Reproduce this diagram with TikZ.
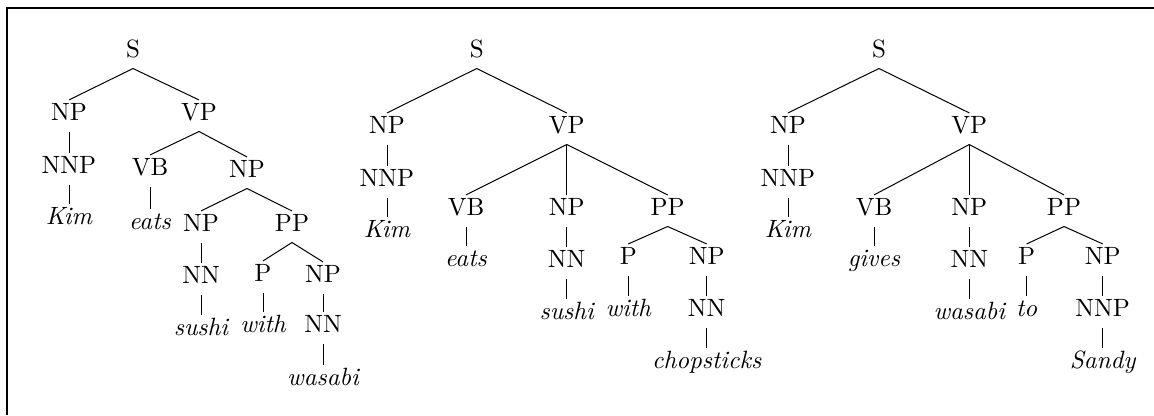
\documentclass[tikz,border=0pt]{standalone}
\begin{document}
\begin{tikzpicture}[x=0.4pt,y=-0.4pt,
  cat/.style={anchor=base,inner sep=1pt,text height=6.83pt,text depth=3.4pt},
  word/.style={cat,font=\itshape},
  branch/.style={line width=0.4pt},
  frame/.style={line width=0.6pt}]
\useasboundingbox (0,0) rectangle (1154,415);
\draw[frame] (7,415) -- (7,8) -- (1154,8);

% Tree 1: Kim eats [sushi with wasabi]
\node[cat]  (a)        at (133,57)  {S};
\node[cat]  (a-np)     at (69,120)  {NP};
\node[cat]  (a-vp)     at (199,120) {VP};
\node[cat]  (a-nnp)    at (69,173)  {NNP};
\node[word] (a-kim)    at (69,224)  {Kim};
\node[cat]  (a-vb)     at (150,175) {VB};
\node[word] (a-eats)   at (150,229) {eats};
\node[cat]  (a-np2)    at (247,177) {NP};
\node[cat]  (a-np3)    at (201,231) {NP};
\node[cat]  (a-pp)     at (292,231) {PP};
\node[cat]  (a-nn)     at (201,283) {NN};
\node[word] (a-sushi)  at (201,335) {sushi};
\node[cat]  (a-p)      at (263,281) {P};
\node[word] (a-with)   at (263,332) {with};
\node[cat]  (a-np4)    at (323,282) {NP};
\node[cat]  (a-nn2)    at (323,332) {NN};
\node[word] (a-wasabi) at (323,385) {wasabi};
\begin{scope}[branch]
\draw (a.south) -- (a-np.north);
\draw (a.south) -- (a-vp.north);
\draw (a-np.south) -- (a-nnp.north);
\draw (a-nnp.south) -- (a-kim.north);
\draw (a-vp.south) -- (a-vb.north);
\draw (a-vp.south) -- (a-np2.north);
\draw (a-vb.south) -- (a-eats.north);
\draw (a-np2.south) -- (a-np3.north);
\draw (a-np2.south) -- (a-pp.north);
\draw (a-np3.south) -- (a-nn.north);
\draw (a-nn.south) -- (a-sushi.north);
\draw (a-pp.south) -- (a-p.north);
\draw (a-pp.south) -- (a-np4.north);
\draw (a-p.south) -- (a-with.north);
\draw (a-np4.south) -- (a-nn2.north);
\draw (a-nn2.south) -- (a-wasabi.north);
\end{scope}

% Tree 2: Kim eats sushi [with chopsticks]
\node[cat]  (b)        at (476.7,57)  {S};
\node[cat]  (b-np)     at (387,133)   {NP};
\node[cat]  (b-vp)     at (566.7,133) {VP};
\node[cat]  (b-nnp)    at (387,186)   {NNP};
\node[word] (b-kim)    at (387,237)   {Kim};
\node[cat]  (b-vb)     at (466,215)   {VB};
\node[word] (b-eats)   at (466,266)   {eats};
\node[cat]  (b-np2)    at (566.7,215) {NP};
\node[cat]  (b-nn)     at (566.7,267) {NN};
\node[word] (b-sushi)  at (566.7,319) {sushi};
\node[cat]  (b-pp)     at (667.7,215) {PP};
\node[cat]  (b-p)      at (628.3,264) {P};
\node[word] (b-with)   at (628.3,316) {with};
\node[cat]  (b-np3)    at (706.7,264) {NP};
\node[cat]  (b-nn2)    at (706.7,316) {NN};
\node[word] (b-chop)   at (706.7,368) {chopsticks};
\begin{scope}[branch]
\draw (b.south) -- (b-np.north);
\draw (b.south) -- (b-vp.north);
\draw (b-np.south) -- (b-nnp.north);
\draw (b-nnp.south) -- (b-kim.north);
\draw (b-vp.south) -- (b-vb.north);
\draw (b-vp.south) -- (b-np2.north);
\draw (b-vp.south) -- (b-pp.north);
\draw (b-vb.south) -- (b-eats.north);
\draw (b-np2.south) -- (b-nn.north);
\draw (b-nn.south) -- (b-sushi.north);
\draw (b-pp.south) -- (b-p.north);
\draw (b-pp.south) -- (b-np3.north);
\draw (b-p.south) -- (b-with.north);
\draw (b-np3.south) -- (b-nn2.north);
\draw (b-nn2.south) -- (b-chop.north);
\end{scope}

% Tree 3: Kim gives wasabi [to Sandy]
\node[cat]  (c)        at (879,57)     {S};
\node[cat]  (c-np)     at (788,133)    {NP};
\node[cat]  (c-vp)     at (969.3,133)  {VP};
\node[cat]  (c-nnp)    at (788,186)    {NNP};
\node[word] (c-kim)    at (788,237)    {Kim};
\node[cat]  (c-vb)     at (874,215)    {VB};
\node[word] (c-gives)  at (874,266)    {gives};
\node[cat]  (c-np2)    at (969.3,215)  {NP};
\node[cat]  (c-nn)     at (969.3,267)  {NN};
\node[word] (c-wasabi) at (969.3,319)  {wasabi};
\node[cat]  (c-pp)     at (1064,215)   {PP};
\node[cat]  (c-p)      at (1026.7,264) {P};
\node[word] (c-to)     at (1026.7,316) {to};
\node[cat]  (c-np3)    at (1102.7,264) {NP};
\node[cat]  (c-nnp2)   at (1102.7,316) {NNP};
\node[word] (c-sandy)  at (1102.7,368) {Sandy};
\begin{scope}[branch]
\draw (c.south) -- (c-np.north);
\draw (c.south) -- (c-vp.north);
\draw (c-np.south) -- (c-nnp.north);
\draw (c-nnp.south) -- (c-kim.north);
\draw (c-vp.south) -- (c-vb.north);
\draw (c-vp.south) -- (c-np2.north);
\draw (c-vp.south) -- (c-pp.north);
\draw (c-vb.south) -- (c-gives.north);
\draw (c-np2.south) -- (c-nn.north);
\draw (c-nn.south) -- (c-wasabi.north);
\draw (c-pp.south) -- (c-p.north);
\draw (c-pp.south) -- (c-np3.north);
\draw (c-p.south) -- (c-to.north);
\draw (c-np3.south) -- (c-nnp2.north);
\draw (c-nnp2.south) -- (c-sandy.north);
\end{scope}
\end{tikzpicture}
\end{document}
